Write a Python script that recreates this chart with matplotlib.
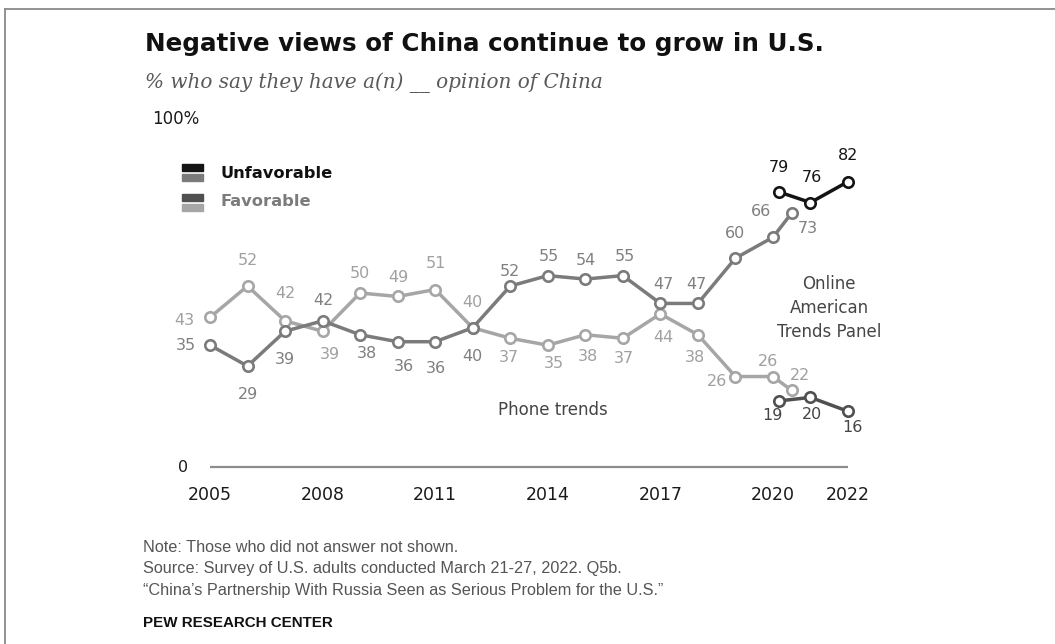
import matplotlib
matplotlib.use("Agg")
import matplotlib.pyplot as plt
from matplotlib.patches import Rectangle
from matplotlib.lines import Line2D

# phone surveys (2020 had two phone waves)
phone_years = [2005, 2006, 2007, 2008, 2009, 2010, 2011, 2012, 2013, 2014,
               2015, 2016, 2017, 2018, 2019, 2020, 2020.5]
phone_unfav = [35, 29, 39, 42, 38, 36, 36, 40, 52, 55, 54, 55, 47, 47, 60, 66, 73]
phone_fav = [43, 52, 42, 39, 50, 49, 51, 40, 37, 35, 38, 37, 44, 38, 26, 26, 22]

# online American Trends Panel
online_years = [2020.17, 2021, 2022]
online_unfav = [79, 76, 82]
online_fav = [19, 20, 16]

tick_years = [2005, 2008, 2011, 2014, 2017, 2020, 2022]

# label offsets in pixels (dx, dy up)
off_phone_unfav = [(-24, 0), (0, -28), (0, -28), (1, 20), (7, -19), (6, -25),
                   (1, -27), (0, -29), (0, 15), (1, 19), (1, 19), (2, 19),
                   (3, 19), (-2, 19), (0, 25), (-12, 26), (16, -16)]
off_phone_fav = [(-26, -3), (0, 26), (0, 27), (7, -23), (0, 20), (1, 19),
                 (1, 26), (0, 25), (-1, -19), (6, -18), (3, -22), (1, -20),
                 (3, -24), (-3, -23), (-18, -5), (-5, 15), (8, 15)]
off_online_unfav = [(0, 25), (1, 25), (0, 26)]
off_online_fav = [(-7, -15), (2, -17), (4, -16)]

W, H = 1055, 644
fig = plt.figure(figsize=(W / 100, H / 100), dpi=100)
fig.patch.set_facecolor("white")

def fx(x):
    return x / W

def fy(y):
    return 1 - y / H

# axes: 2005 -> 210px, 2022 -> 848px ; 0 -> 467px, 100 -> 119px
ppy = (848 - 210) / 17
ppu = (467 - 119) / 100
x0, x1 = 2003.5, 2023.5
y0, y1 = -5, 105
left = 210 - (2005 - x0) * ppy
right = 848 + (x1 - 2022) * ppy
bottom = 467 + (0 - y0) * ppu
top = 119 - (y1 - 100) * ppu
ax = fig.add_axes([fx(left), fy(bottom), fx(right - left), (bottom - top) / H])
ax.set_xlim(x0, x1)
ax.set_ylim(y0, y1)
for s in ax.spines.values():
    s.set_visible(False)
ax.set_yticks([])
ax.set_xticks(tick_years)
ax.set_xticklabels([str(y) for y in tick_years], fontsize=12.5, color="#1a1a1a",
                   family="DejaVu Sans")
ax.tick_params(axis="x", length=0, pad=1)

ax.plot([2005, 2022], [0, 0], color="#8c8c8c", lw=1.6, solid_capstyle="butt")
ax.text(2004.28, 0, "0", ha="center", va="center", fontsize=11.5, color="#1a1a1a")
ax.text(2003.45, 100, "100%", ha="left", va="center", fontsize=12, color="#1a1a1a")

def series(xs, ys, offs, lc, tc, z):
    ax.plot(xs, ys, color=lc, lw=2.5, marker="o", ms=7.5, mfc="white",
            mec=lc, mew=1.9, zorder=z, clip_on=False)
    for x, y, (dx, dy) in zip(xs, ys, offs):
        ax.annotate(str(y), (x, y), xytext=(dx, dy), textcoords="offset pixels",
                    ha="center", va="center", fontsize=11.5, color=tc, zorder=z + 1)

series(phone_years, phone_fav, off_phone_fav, "#a6a6a6", "#a0a0a0", 2)
series(phone_years, phone_unfav, off_phone_unfav, "#7b7b7b", "#808080", 3)
series(online_years, online_fav, off_online_fav, "#505050", "#454545", 4)
series(online_years, online_unfav, off_online_unfav, "#141414", "#141414", 5)

fig.text(fx(498), fy(410), "Phone trends", ha="left", va="center",
         fontsize=12, color="#454545")
fig.text(fx(829), fy(308), "Online\nAmerican\nTrends Panel", ha="center",
         va="center", fontsize=12, color="#454545", linespacing=1.45)

# legend
for (ya, yb, ca, cb) in [(164, 174, "#141414", "#7b7b7b"),
                         (194, 204, "#505050", "#a6a6a6")]:
    fig.add_artist(Rectangle((fx(182), fy(ya + 7)), fx(21), 7 / H, color=ca,
                             transform=fig.transFigure))
    fig.add_artist(Rectangle((fx(182), fy(yb + 7)), fx(21), 7 / H, color=cb,
                             transform=fig.transFigure))
fig.text(fx(220), fy(174), "Unfavorable", ha="left", va="center", fontsize=11.7,
         fontweight="bold", color="#111111")
fig.text(fx(220), fy(202), "Favorable", ha="left", va="center", fontsize=11.7,
         fontweight="bold", color="#7b7b7b")

# titles
fig.text(fx(145), fy(44), "Negative views of China continue to grow in U.S.",
         ha="left", va="center", fontsize=17.7, fontweight="bold",
         color="#111111", family="DejaVu Sans")
fig.text(fx(145), fy(83), "% who say they have a(n) __ opinion of China",
         ha="left", va="center", fontsize=14.4, style="italic", color="#5a5a5a",
         family="DejaVu Serif")

# footer
notes = ["Note: Those who did not answer not shown.",
         "Source: Survey of U.S. adults conducted March 21-27, 2022. Q5b.",
         "\u201cChina\u2019s Partnership With Russia Seen as Serious Problem for the U.S.\u201d"]
for i, t in enumerate(notes):
    fig.text(fx(143), fy(547 + 22 * i), t, ha="left", va="center",
             fontsize=11.7, color="#555555", family="Liberation Sans")
fig.text(fx(143), fy(623), "PEW RESEARCH CENTER", ha="left", va="center",
         fontsize=10.9, fontweight="bold", color="#111111",
         family=["Liberation Sans Narrow", "Liberation Sans"])

# frame lines (top and left)
fig.add_artist(Line2D([fx(5), 1], [fy(9), fy(9)], color="#8a8a8a", lw=1.3,
                      transform=fig.transFigure))
fig.add_artist(Line2D([fx(5), fx(5)], [fy(9), 0], color="#8a8a8a", lw=1.3,
                      transform=fig.transFigure))

fig.savefig("out.png", dpi=100, facecolor="white")
